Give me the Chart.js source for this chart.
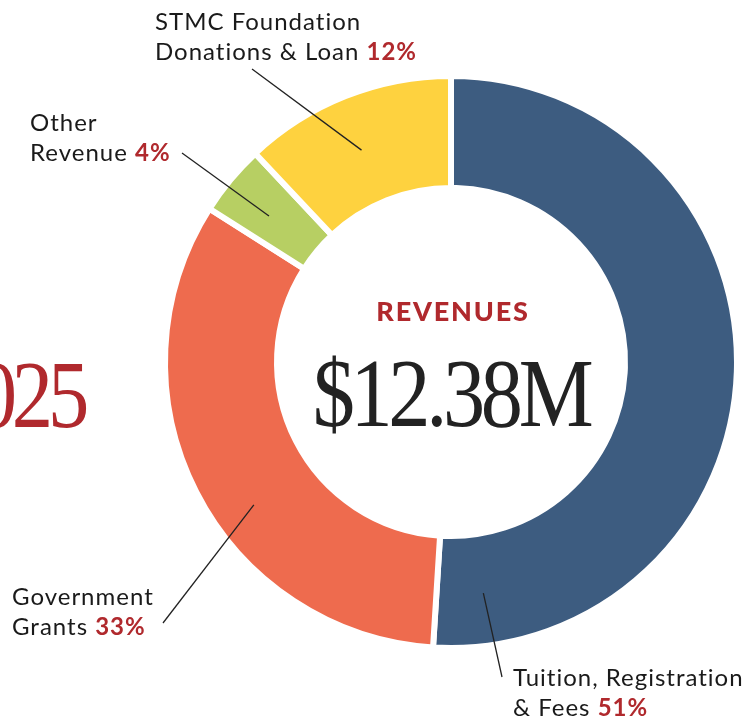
<!DOCTYPE html>
<html>
<head>
<meta charset="utf-8">
<script src="https://cdn.jsdelivr.net/npm/chart.js@4.4.1/dist/chart.umd.min.js"></script>
<style>
  html, body { margin: 0; padding: 0; background: #fff; }
  #wrap { position: relative; width: 748px; height: 724px; overflow: hidden; }
  #revChart { position: absolute; left: 0; top: 0; }
  .lbl { position: absolute; font-family: Lato, "Open Sans", sans-serif; font-size: 24px; line-height: 30px; letter-spacing: 1px; color: #1a1a1a; white-space: nowrap; }
  .lbl b { color: #b0292d; font-weight: 700; }
  .year { position: absolute; right: 664px; top: 339px; font-family: "Liberation Serif", serif; font-size: 96px; color: #b0292d; letter-spacing: -6px; transform: scaleX(0.86); transform-origin: right top; white-space: nowrap; }
  .center { position: absolute; left: 451px; width: 0; }
  .center div { position: absolute; left: -200px; width: 400px; text-align: center; white-space: nowrap; }
  .title { top: 294px; font-family: Lato, sans-serif; font-weight: 900; font-size: 27px; letter-spacing: 1.8px; padding-left: 2px; color: #b0292d; }
  .total { top: 337px; font-family: "Liberation Serif", serif; font-size: 98px; letter-spacing: -5px; color: #222; transform: scaleX(0.86); }
</style>
</head>
<body>
<div id="wrap">
  <canvas id="revChart" width="748" height="724"></canvas>
  <div class="year">2025</div>
  <div class="center">
    <div class="title">REVENUES</div>
    <div class="total">$12.38M</div>
  </div>
  <div class="lbl" style="left:155px; top:6px;">STMC Foundation<br>Donations &amp; Loan <b>12%</b></div>
  <div class="lbl" style="left:30px; top:107px;">Other<br>Revenue <b>4%</b></div>
  <div class="lbl" style="left:12px; top:581px;">Government<br>Grants <b>33%</b></div>
  <div class="lbl" style="left:513px; top:662px;">Tuition, Registration<br>&amp; Fees <b>51%</b></div>
</div>
<script>
let categories = ['Tuition, Registration & Fees', 'Government Grants', 'Other Revenue', 'STMC Foundation Donations & Loan'];
let shares = [51, 33, 4, 12];
let colors = ['#3d5c80', '#ee6b4e', '#b7cf63', '#fed23f'];

// where each leader line leaves its slice (fraction along arc, fraction across ring) and where it ends
let leaders = [
    { t: 0.937, r: 0.53, x: 502, y: 677 },
    { t: 0.425, r: 0.62, x: 163, y: 623 },
    { t: 0.44, r: 0.53, x: 182, y: 153 },
    { t: 0.47, r: 0.50, x: 252, y: 69 },
];

let leaderLines = {
    id: 'leaderLines',
    afterDatasetsDraw(chart) {
        let ctx = chart.ctx;
        let arcs = chart.getDatasetMeta(0).data;
        ctx.save();
        ctx.strokeStyle = '#222';
        ctx.lineWidth = 1.3;
        arcs.forEach(function (arc, i) {
            let l = leaders[i];
            let a = arc.startAngle + l.t * (arc.endAngle - arc.startAngle);
            let rad = arc.innerRadius + l.r * (arc.outerRadius - arc.innerRadius);
            ctx.beginPath();
            ctx.moveTo(arc.x + rad * Math.cos(a), arc.y + rad * Math.sin(a));
            ctx.lineTo(l.x, l.y);
            ctx.stroke();
        });
        ctx.restore();
    }
};

let ctx = document.getElementById('revChart').getContext('2d');
let revChart = new Chart(ctx, {
    type: 'doughnut',
    data: {
        labels: categories,
        datasets: [{
            data: shares,
            backgroundColor: colors,
            borderColor: '#ffffff',
            borderWidth: 6,
        }]
    },
    options: {
        responsive: false,
        animation: false,
        radius: 286,
        cutout: 174,
        layout: { padding: { left: 162, right: 8, top: 73, bottom: 73 } },
        plugins: {
            legend: { display: false },
            tooltip: { enabled: false },
        }
    },
    plugins: [leaderLines],
});
</script>
</body>
</html>
